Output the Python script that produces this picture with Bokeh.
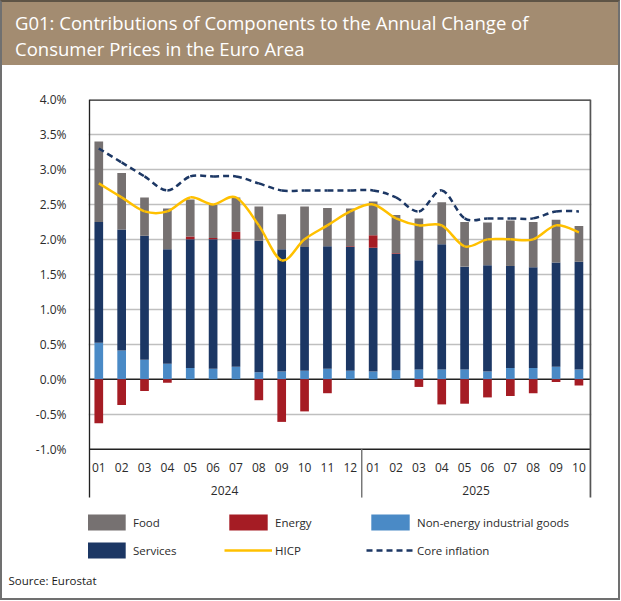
import numpy as np
from bokeh.plotting import figure
from bokeh.models import (ColumnDataSource, Range1d, FixedTicker, PrintfTickFormatter,
                          Legend, LegendItem, Title, Div)
from bokeh.layouts import column
from bokeh.core.properties import value
from bokeh.embed import file_html
from bokeh.resources import INLINE

# ---------------- data ----------------
months = ["01", "02", "03", "04", "05", "06", "07", "08", "09", "10", "11", "12",
          "01", "02", "03", "04", "05", "06", "07", "08", "09", "10"]
years = ["2024", "2025"]
months_per_year = [12, 10]

neig = [0.52, 0.41, 0.28, 0.22, 0.16, 0.15, 0.18, 0.10, 0.11, 0.12, 0.15, 0.12,
        0.11, 0.13, 0.14, 0.14, 0.14, 0.11, 0.16, 0.16, 0.18, 0.14]
services = [1.73, 1.73, 1.77, 1.64, 1.84, 1.85, 1.82, 1.88, 1.75, 1.77, 1.75, 1.77,
            1.77, 1.66, 1.56, 1.79, 1.47, 1.52, 1.46, 1.44, 1.49, 1.54]
energy = [-0.63, -0.37, -0.17, -0.05, 0.04, 0.02, 0.11, -0.30, -0.61, -0.46, -0.20, 0.01,
          0.18, 0.01, -0.11, -0.36, -0.35, -0.26, -0.24, -0.20, -0.04, -0.09]
food = [1.15, 0.81, 0.55, 0.58, 0.53, 0.47, 0.49, 0.49, 0.50, 0.58, 0.55, 0.54,
        0.48, 0.55, 0.60, 0.60, 0.64, 0.61, 0.65, 0.65, 0.61, 0.51]
hicp = [2.8, 2.6, 2.4, 2.4, 2.6, 2.5, 2.6, 2.2, 1.7, 2.0, 2.2, 2.4,
        2.5, 2.3, 2.2, 2.2, 1.9, 2.0, 2.0, 2.0, 2.2, 2.1]
core = [3.3, 3.1, 2.9, 2.7, 2.9, 2.9, 2.9, 2.8, 2.7, 2.7, 2.7, 2.7,
        2.7, 2.6, 2.4, 2.7, 2.3, 2.3, 2.3, 2.3, 2.4, 2.4]
y_ticks = [-1.0, -0.5, 0.0, 0.5, 1.0, 1.5, 2.0, 2.5, 3.0, 3.5, 4.0]

title_lines = ["G01: Contributions of Components to the Annual Change of",
               "Consumer Prices in the Euro Area"]
source_text = "Source: Eurostat"

# ---------------- style ----------------
FONT = "Open Sans"
C_FOOD = "#767171"
C_ENERGY = "#a51c24"
C_NEIG = "#4a8ac6"
C_SERV = "#1c3764"
C_HICP = "#ffc000"
C_CORE = "#1c3764"
BANNER = "#a38c71"
TXT = "#2b2b2b"

W = 616
BANNER_H = 63
CHART_H = 533
X_LO, X_HI = -0.45, 21.55          # frame extent (category units)
EDGE_LO, EDGE_HI = -0.41, 21.51    # plot-area box edges
Y_TOP = 4.0
Y_CAT = -1.692                     # bottom of category-label band
Y_MIN = -2.592                     # frame continues down to hold the legend

# ---------------- derived stacking ----------------
x = np.arange(len(months), dtype=float)
n_a, s_a, e_a, f_a = map(np.asarray, (neig, services, energy, food))
serv_top = n_a + s_a
e_pos = np.where(e_a > 0, e_a, 0.0)
src = ColumnDataSource(dict(
    x=x,
    neig_b=np.zeros_like(x), neig_t=n_a,
    serv_b=n_a, serv_t=serv_top,
    en_b=np.where(e_a > 0, serv_top, 0.0), en_t=np.where(e_a > 0, serv_top + e_a, e_a),
    food_b=serv_top + e_pos, food_t=serv_top + e_pos + f_a,
))


def smooth(ys):
    ys = np.asarray(ys, float)
    xp = np.concatenate([[x[0]], x, [x[-1]]])
    yp = np.concatenate([[ys[0]], ys, [ys[-1]]])
    i = np.arange(len(ys) - 1)
    return dict(
        x0=xp[i + 1], y0=yp[i + 1], x1=xp[i + 2], y1=yp[i + 2],
        cx0=xp[i + 1] + (xp[i + 2] - xp[i]) / 6, cy0=yp[i + 1] + (yp[i + 2] - yp[i]) / 6,
        cx1=xp[i + 2] - (xp[i + 3] - xp[i + 1]) / 6, cy1=yp[i + 2] - (yp[i + 3] - yp[i + 1]) / 6,
    )


# ---------------- banner ----------------
banner = Div(
    text=(f'<div style="box-sizing:border-box;width:{W}px;height:{BANNER_H}px;'
          f'background:{BANNER};color:#ffffff;font-family:\'{FONT}\';font-size:18.5px;'
          f'line-height:26px;padding:8px 0 0 13px;white-space:nowrap;">'
          + "<br>".join(title_lines) + "</div>"),
    width=W, height=BANNER_H, margin=0)

# ---------------- chart ----------------
p = figure(width=W, height=CHART_H, output_backend="svg", toolbar_location=None,
           x_range=Range1d(X_LO, X_HI), y_range=Range1d(Y_MIN, Y_TOP),
           x_axis_location=None,
           min_border_left=86, min_border_right=27, min_border_top=34, min_border_bottom=38,
           outline_line_color=None, margin=0)
p.background_fill_color = "white"
p.border_fill_color = "white"

p.xgrid.visible = False
p.ygrid.ticker = FixedTicker(ticks=[t for t in y_ticks if t not in (0.0, -1.0, 4.0)])
p.ygrid.grid_line_color = "#bfbfbf"
p.ygrid.grid_line_width = 1.5

yax = p.yaxis[0]
yax.ticker = FixedTicker(ticks=y_ticks)
yax.formatter = PrintfTickFormatter(format="%.1f%%")
yax.major_tick_line_color = None
yax.minor_tick_line_color = None
yax.major_tick_out = 0
yax.major_tick_in = 0
yax.minor_tick_out = 0
yax.axis_line_color = None
yax.major_label_standoff = 22
yax.major_label_text_font = FONT
yax.major_label_text_font_size = "12px"
yax.major_label_text_color = TXT

# horizontal reference lines (0 %, -1 % and top of the plot box)
p.segment(x0=[EDGE_LO] * 3, x1=[EDGE_HI] * 3, y0=[0.0, -1.0, Y_TOP], y1=[0.0, -1.0, Y_TOP],
          line_color="#222222", line_width=[1.5, 1.5, 2.5])
# vertical box edges, down through the category band
p.segment(x0=[EDGE_LO], x1=[EDGE_LO], y0=[Y_TOP], y1=[Y_CAT], line_color="#222222", line_width=1.5)
p.segment(x0=[EDGE_HI], x1=[EDGE_HI], y0=[Y_TOP], y1=[Y_CAT], line_color="#555555", line_width=2)

BW = 0.38
r_neig = p.vbar(x="x", bottom="neig_b", top="neig_t", width=BW, source=src,
                fill_color=C_NEIG, line_color=None)
r_serv = p.vbar(x="x", bottom="serv_b", top="serv_t", width=BW, source=src,
                fill_color=C_SERV, line_color=None)
r_en = p.vbar(x="x", bottom="en_b", top="en_t", width=BW, source=src,
              fill_color=C_ENERGY, line_color=None)
r_food = p.vbar(x="x", bottom="food_b", top="food_t", width=BW, source=src,
                fill_color=C_FOOD, line_color=None)

r_core = p.bezier(source=ColumnDataSource(smooth(core)), x0="x0", y0="y0", x1="x1", y1="y1",
                  cx0="cx0", cy0="cy0", cx1="cx1", cy1="cy1",
                  line_color=C_CORE, line_width=2.5, line_dash="6 4")
r_hicp = p.bezier(source=ColumnDataSource(smooth(hicp)), x0="x0", y0="y0", x1="x1", y1="y1",
                  cx0="cx0", cy0="cy0", cx1="cx1", cy1="cy1",
                  line_color=C_HICP, line_width=2.5)

# month / year labels in the category band below the -1.0% line
p.text(x=x, y=[-1.263] * len(months), text=months, text_align="center",
       text_baseline="middle", text_font=value(FONT), text_font_size="12px", text_color=TXT)
starts = np.cumsum([0] + months_per_year[:-1])
year_x = [s + (m - 1) / 2 for s, m in zip(starts, months_per_year)]
p.text(x=year_x, y=[-1.59] * len(years), text=years, text_align="center",
       text_baseline="middle", text_font=value(FONT), text_font_size="12px", text_color=TXT)
sep_x = [s - 0.5 for s in starts[1:]]
p.segment(x0=sep_x, y0=[-1.0] * len(sep_x), x1=sep_x, y1=[Y_CAT] * len(sep_x),
          line_color="#777777", line_width=1.5)

legend = Legend(items=[
    LegendItem(label="Food", renderers=[r_food]),
    LegendItem(label="Energy", renderers=[r_en]),
    LegendItem(label="Non-energy industrial goods", renderers=[r_neig]),
    LegendItem(label="Services", renderers=[r_serv]),
    LegendItem(label="HICP", renderers=[r_hicp]),
    LegendItem(label="Core inflation", renderers=[r_core]),
], orientation="horizontal", ncols=3, location=(-6, 0),
    glyph_width=48, glyph_height=20, label_height=20, label_width=83,
    label_standoff=3, spacing=8, padding=0, margin=0,
    border_line_color=None, background_fill_alpha=0,
    label_text_font=FONT, label_text_font_size="11.5px", label_text_color=TXT)
p.add_layout(legend, "center")

p.add_layout(Title(text=source_text, align="left", offset=-80, standoff=20,
                   text_font=FONT, text_font_size="11.5px",
                   text_font_style="normal", text_color="#1a1a1a"), "below")

layout = column(banner, p, spacing=0, margin=0,
                styles={"border": "2px solid #707070", "border-top-color": "#5e5446"})

open("out.html", "w").write(file_html(layout, INLINE))
